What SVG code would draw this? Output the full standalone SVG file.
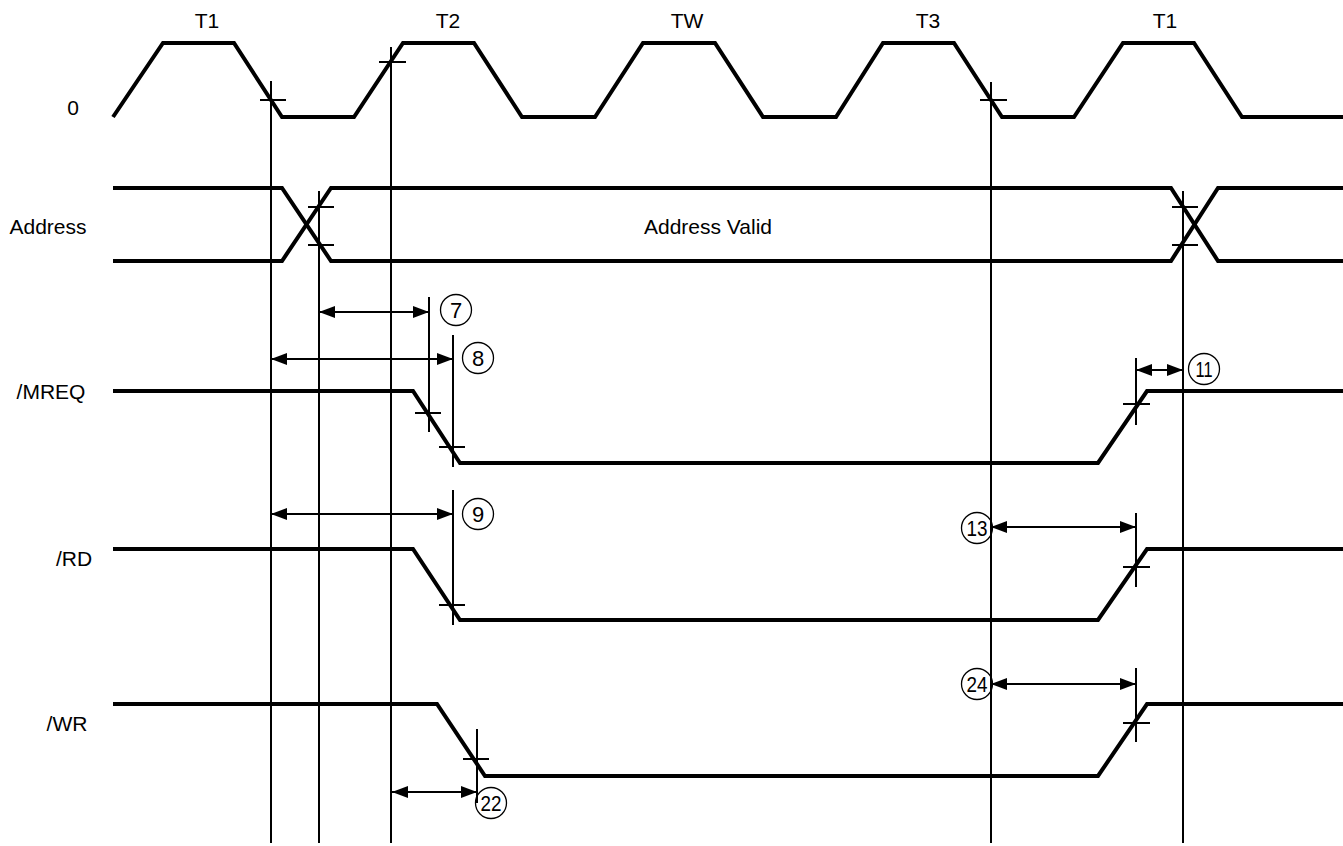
<svg xmlns="http://www.w3.org/2000/svg" width="1343" height="846" viewBox="0 0 1343 846">
<style>
.sig{fill:none;stroke:#000;stroke-width:4;stroke-linejoin:miter}
.thin{fill:none;stroke:#000;stroke-width:2}
.dim{fill:none;stroke:#000;stroke-width:2}
.lbl{font-family:"Liberation Sans",Arial,sans-serif;font-size:21px;fill:#000;text-anchor:middle}
.cn{fill:none;stroke:#000;stroke-width:1.3}
.num{font-family:"Liberation Sans",Arial,sans-serif;font-size:22px;fill:#000;text-anchor:middle}
</style>
<defs>
<marker id="ah" viewBox="0 0 16 12" refX="16" refY="6" markerWidth="16" markerHeight="12" markerUnits="userSpaceOnUse" orient="auto-start-reverse">
<path d="M0,0 L16,6 L0,12 Z" fill="#000"/>
</marker>
</defs>
<rect width="1343" height="846" fill="#fff"/>
<g id="labels">
<text class="lbl" x="207" y="28">T1</text>
<text class="lbl" x="448" y="28">T2</text>
<text class="lbl" x="687" y="28">TW</text>
<text class="lbl" x="928" y="28">T3</text>
<text class="lbl" x="1165" y="28">T1</text>
<text class="lbl" x="73" y="115">0</text>
<text class="lbl" x="48" y="234">Address</text>
<text class="lbl" x="51" y="399">/MREQ</text>
<text class="lbl" x="74" y="566">/RD</text>
<text class="lbl" x="67" y="731">/WR</text>
</g>
<g id="clock">
<path class="sig" d="M113,117 L163,43 L234,43 L282,117 L354,117 L403,43 L474,43 L522,117 L595,117 L643,43 L715,43 L763,117 L836,117 L883,43 L954,43 L1002,117 L1074,117 L1123,43 L1194,43 L1242,117 L1343,117"/>
</g>
<g id="address">
<path class="sig" d="M113,188 L282,188 L331,261 L1171,261 L1218,188 L1343,188"/>
<path class="sig" d="M113,261 L282,261 L331,188 L1171,188 L1218,261 L1343,261"/>
<text class="lbl" x="708" y="234">Address Valid</text>
</g>
<g id="mreq">
<path class="sig" d="M113,391 L413,391 L460,463 L1098,463 L1147,391 L1343,391"/>
</g>
<g id="rd">
<path class="sig" d="M113,549 L413,549 L460,620 L1098,620 L1147,549 L1343,549"/>
</g>
<g id="wr">
<path class="sig" d="M113,704 L437,704 L485,776 L1098,776 L1147,704 L1343,704"/>
</g>
<g id="connectors">
<path class="thin" d="M271,81 V843 M319,191 V843 M391,47 V843 M991,82 V843 M1183,191 V843"/>
<path class="thin" d="M260,100 H286 M379,62 H406 M980,100 H1007 M308,207 H334 M308,245 H334 M1172,207 H1198 M1172,245 H1198"/>
<path class="thin" d="M429,297 V432 M415,413 H441 M453,335 V467 M439,447 H465 M453,490 V625 M439,605 H465 M477,729 V803 M463,759 H489"/>
<path class="thin" d="M1136,358 V425 M1123,404 H1150 M1136,513 V587 M1123,567 H1150 M1136,668 V742 M1123,723 H1150"/>
<path class="dim" d="M319,312 H429" marker-start="url(#ah)" marker-end="url(#ah)"/>
<path class="dim" d="M271,359 H453" marker-start="url(#ah)" marker-end="url(#ah)"/>
<path class="dim" d="M271,514 H453" marker-start="url(#ah)" marker-end="url(#ah)"/>
<path class="dim" d="M1136,370 H1183" marker-start="url(#ah)" marker-end="url(#ah)"/>
<path class="dim" d="M991,527 H1136" marker-start="url(#ah)" marker-end="url(#ah)"/>
<path class="dim" d="M991,684 H1136" marker-start="url(#ah)" marker-end="url(#ah)"/>
<path class="dim" d="M392,792 H477" marker-start="url(#ah)" marker-end="url(#ah)"/>
</g>
<g id="callouts">
<circle class="cn" cx="456" cy="310" r="15.5"/><text class="num" x="456" y="318">7</text>
<circle class="cn" cx="478" cy="358" r="15.5"/><text class="num" x="478" y="366">8</text>
<circle class="cn" cx="478" cy="514" r="15.5"/><text class="num" x="478" y="522">9</text>
<circle class="cn" cx="1204" cy="369" r="15.5"/><text class="num" x="1204" y="377" textLength="17" lengthAdjust="spacingAndGlyphs">11</text>
<circle class="cn" cx="977" cy="528" r="15.5"/><text class="num" x="977" y="536" textLength="21" lengthAdjust="spacingAndGlyphs">13</text>
<circle class="cn" cx="977" cy="684" r="15.5"/><text class="num" x="977" y="692" textLength="21" lengthAdjust="spacingAndGlyphs">24</text>
<circle class="cn" cx="491" cy="803" r="15.5"/><text class="num" x="491" y="811" textLength="21" lengthAdjust="spacingAndGlyphs">22</text>
</g>
</svg>
